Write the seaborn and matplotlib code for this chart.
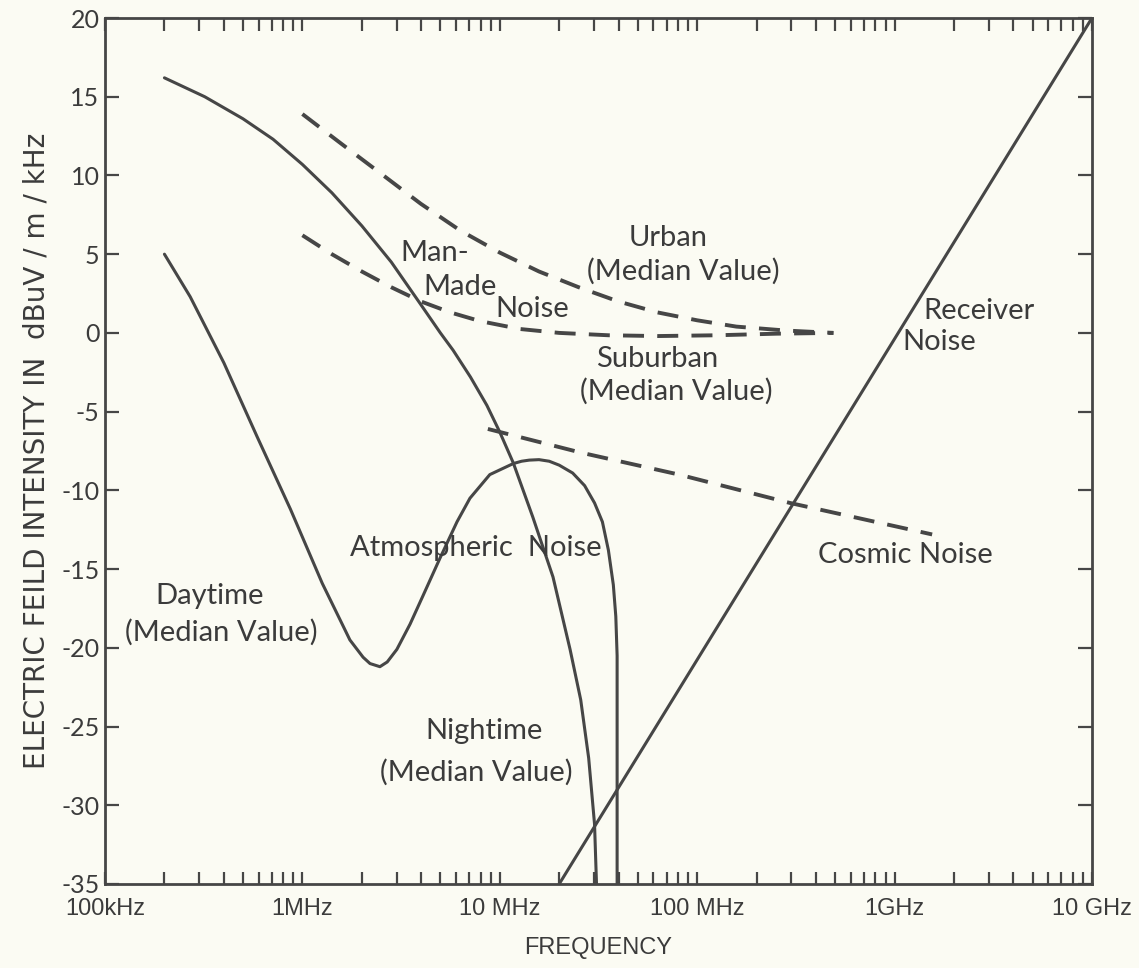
import numpy as np
import pandas as pd
import matplotlib
matplotlib.use("Agg")
import matplotlib.pyplot as plt
import seaborn as sns
from matplotlib.ticker import LogLocator, NullFormatter, FixedLocator

# ---- data (frequency in MHz, level in dBuV/m/kHz) ----
manmade_f = [0.20, 0.32, 0.50, 0.71, 1.0, 1.41, 2.0, 2.82, 3.98, 5.0, 5.8, 7.1, 8.6,
             10, 11.7, 14.7, 18.6, 22.7, 25.7, 28.2, 30.2, 30.9]
manmade_db = [16.2, 15.0, 13.6, 12.3, 10.7, 8.9, 6.8, 4.5, 1.8, 0.0, -1.1, -2.8, -4.6,
              -6.3, -8.25, -11.7, -15.5, -20.1, -23.3, -27.0, -31.2, -35.0]

atmos_f = [0.20, 0.27, 0.40, 0.59, 0.87, 1.26, 1.62, 1.74, 2.03, 2.2, 2.47, 2.69, 3.01,
           3.51, 4.08, 4.98, 6.07, 7.06, 8.9, 10.2, 11.7, 12.9, 14.1, 15.8, 17.8, 20.0,
           23.4, 26.9, 30.2, 33.1, 35.5, 37.6, 38.7, 39.3, 39.3]
atmos_db = [5.0, 2.3, -1.9, -6.6, -11.2, -15.9, -18.7, -19.5, -20.6, -21.0, -21.2, -20.9,
            -20.1, -18.5, -16.7, -14.3, -12.0, -10.5, -9.0, -8.65, -8.3, -8.15, -8.08,
            -8.05, -8.15, -8.4, -8.9, -9.7, -10.8, -12.0, -13.8, -16.0, -18.0, -20.5, -35.0]

urban_f = [1.0, 1.58, 2.51, 3.98, 6.31, 10, 15.8, 25.1, 39.8, 63, 100, 158, 282, 490]
urban_db = [13.9, 12.0, 10.1, 8.2, 6.5, 5.1, 3.9, 2.9, 2.0, 1.3, 0.8, 0.4, 0.15, 0.0]

suburban_f = [1.0, 1.41, 2.0, 2.82, 3.98, 5.62, 7.94, 12.6, 20, 35.5, 63, 126, 251, 490]
suburban_db = [6.2, 5.0, 3.9, 2.9, 2.0, 1.3, 0.75, 0.25, 0.0, -0.15, -0.2, -0.15, -0.05, 0.0]

cosmic_f = [8.7, 25.7, 81, 295, 1550]
cosmic_db = [-6.1, -7.6, -9.0, -10.8, -12.8]

receiver_f = [20, 10000]
receiver_db = [-35, 20]

tick_freqs = [0.1, 1, 10, 100, 1000, 10000]
tick_labels = ["100kHz", "1MHz", "10 MHz", "100 MHz", "1GHz", "10 GHz"]
y_ticks = [20, 15, 10, 5, 0, -5, -10, -15, -20, -25, -30, -35]

# ---- style ----
INK = "#464646"
TXT = "#3b3b3b"
BG = "#fbfbf3"
NARROW = ["Liberation Sans Narrow", "Liberation Sans", "DejaVu Sans"]

sns.set_theme(style="ticks")
plt.rcParams["font.family"] = ["Lato", "DejaVu Sans"]
plt.rcParams["text.color"] = TXT
plt.rcParams["axes.labelcolor"] = TXT
plt.rcParams["xtick.color"] = TXT
plt.rcParams["ytick.color"] = TXT

fig = plt.figure(figsize=(11.39, 9.68), dpi=100, facecolor=BG)
ax = fig.add_axes([0.0922, 0.0868, 0.9587 - 0.0922, 0.9814 - 0.0868])
ax.set_facecolor(BG)

solid = dict(color=INK, linewidth=2.2, estimator=None, sort=False, ax=ax, legend=False)
dashed = dict(color=INK, linewidth=2.8, estimator=None, sort=False, ax=ax, legend=False,
              linestyle=(0, (5.4, 3.4)))

sns.lineplot(x=manmade_f, y=manmade_db, **solid)
sns.lineplot(x=atmos_f, y=atmos_db, **solid)
sns.lineplot(x=receiver_f, y=receiver_db, **solid)
sns.lineplot(x=urban_f, y=urban_db, **dashed)
sns.lineplot(x=suburban_f, y=suburban_db, **dashed)
sns.lineplot(x=cosmic_f, y=cosmic_db, **dashed)

ax.set_xscale("log")
ax.set_xlim(0.1, 10000)
ax.set_ylim(-35, 20)

ax.xaxis.set_major_locator(FixedLocator(tick_freqs))
ax.set_xticklabels(tick_labels, family=NARROW)
ax.xaxis.set_minor_locator(LogLocator(base=10, subs=np.arange(2, 10), numticks=20))
ax.xaxis.set_minor_formatter(NullFormatter())
ax.set_yticks(y_ticks)
ax.set_yticklabels([str(v) for v in y_ticks])

ax.tick_params(axis="x", which="both", direction="in", top=True, bottom=True,
               length=9, width=1.6, color=INK)
ax.tick_params(axis="x", which="major", labelsize=17, pad=10)
ax.tick_params(axis="y", which="major", direction="in", left=True, right=True,
               length=10, width=1.6, color=INK, labelsize=18, pad=4)
for s in ax.spines.values():
    s.set_color(INK)
    s.set_linewidth(2.0)

ax.set_xlabel("FREQUENCY", fontsize=17, labelpad=12, family=NARROW)
ax.set_ylabel("ELECTRIC FEILD INTENSITY IN  dBuV / m / kHz", fontsize=20,
              labelpad=8, family=["DejaVu Sans"])

lbl = dict(fontsize=21, color=TXT, va="center")
ax.text(3.12, 5.1, "Man-", ha="left", **lbl)
ax.text(4.08, 2.9, "Made", ha="left", **lbl)
ax.text(9.5, 1.5, "Noise", ha="left", **lbl)
ax.text(71, 6.0, "Urban", ha="center", **lbl)
ax.text(85, 3.9, "(Median Value)", ha="center", **lbl)
ax.text(63, -1.65, "Suburban", ha="center", **lbl)
ax.text(78, -3.7, "(Median Value)", ha="center", **lbl)
ax.text(1393, 1.4, "Receiver", ha="left", **lbl)
ax.text(1089, -0.57, "Noise", ha="left", **lbl)
ax.text(409, -14.1, "Cosmic Noise", ha="left", **lbl)
ax.text(1.74, -13.65, "Atmospheric  Noise", ha="left", **lbl)
ax.text(0.34, -16.7, "Daytime", ha="center", **lbl)
ax.text(0.39, -19.0, "(Median Value)", ha="center", **lbl)
ax.text(8.3, -25.3, "Nightime", ha="center", **lbl)
ax.text(7.6, -27.9, "(Median Value)", ha="center", **lbl)

fig.savefig("out.png", dpi=100, facecolor=BG)
